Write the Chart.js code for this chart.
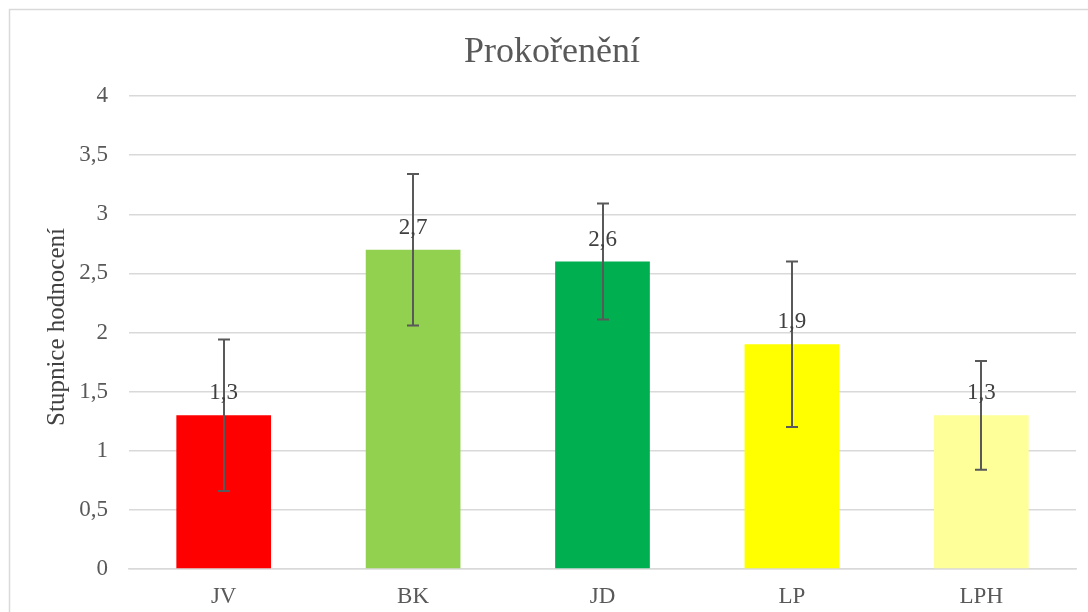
<!DOCTYPE html>
<html>
<head>
<meta charset="utf-8">
<script src="https://cdn.jsdelivr.net/npm/chart.js@4/dist/chart.umd.min.js"></script>
<style>
  html, body { margin: 0; padding: 0; background: #fff; }
  #wrap { width: 1088px; height: 612px; position: relative; }
</style>
</head>
<body>
<div id="wrap"><canvas id="chart"></canvas></div>
<script>
// Prokořenění – bar chart with error bars
const categories = ["JV", "BK", "JD", "LP", "LPH"];
const values = [1.3, 2.7, 2.6, 1.9, 1.3];
const errors = [0.64, 0.64, 0.49, 0.7, 0.46];
const barColors = ["#FF0000", "#92D050", "#00B050", "#FFFF00", "#FFFF99"];
const yTicks = [0, 0.5, 1, 1.5, 2, 2.5, 3, 3.5, 4];

const chartTitle = "Prokořenění";
const yTitle = "Stupnice hodnocení";
const FONT = "'Liberation Serif', 'Times New Roman', serif";

const fmt = (v) => String(v).replace(".", ",");

// frame, titles, error bars and value labels
const extrasPlugin = {
  id: "extras",
  beforeDraw(chart) {
    const ctx = chart.ctx;
    ctx.save();
    ctx.fillStyle = "#fff";
    ctx.fillRect(0, 0, chart.width, chart.height);
    ctx.strokeStyle = "#d9d9d9";
    ctx.lineWidth = 1.5;
    ctx.strokeRect(9.5, 9.5, chart.width + 20, chart.height + 20);
    ctx.restore();
  },
  afterDatasetsDraw(chart) {
    const ctx = chart.ctx;
    const y = chart.scales.y;
    const meta = chart.getDatasetMeta(0);
    ctx.save();

    // error bars
    ctx.strokeStyle = "#595959";
    ctx.lineWidth = 2;
    meta.data.forEach((bar, i) => {
      const x = Math.round(bar.x);
      const top = y.getPixelForValue(values[i] + errors[i]);
      const bot = y.getPixelForValue(values[i] - errors[i]);
      ctx.beginPath();
      ctx.moveTo(x, top);
      ctx.lineTo(x, bot);
      ctx.moveTo(x - 6, top);
      ctx.lineTo(x + 6, top);
      ctx.moveTo(x - 6, bot);
      ctx.lineTo(x + 6, bot);
      ctx.stroke();
    });

    // value labels
    ctx.fillStyle = "#404040";
    ctx.font = "23px " + FONT;
    ctx.textAlign = "center";
    ctx.textBaseline = "alphabetic";
    meta.data.forEach((bar, i) => {
      ctx.fillText(fmt(values[i]), bar.x, bar.y - 16);
    });

    // chart title
    ctx.fillStyle = "#595959";
    ctx.font = "36px " + FONT;
    ctx.textBaseline = "middle";
    ctx.fillText(chartTitle, 552, 53);

    // y axis title
    ctx.font = "25px " + FONT;
    ctx.fillStyle = "#404040";
    ctx.translate(57, 327);
    ctx.rotate(-Math.PI / 2);
    ctx.fillText(yTitle, 0, 0);
    ctx.restore();
  },
};

new Chart(document.getElementById("chart"), {
  type: "bar",
  data: {
    labels: categories,
    datasets: [
      {
        data: values,
        backgroundColor: barColors,
        borderWidth: 0,
        barPercentage: 0.5,
        categoryPercentage: 1,
      },
    ],
  },
  options: {
    responsive: true,
    maintainAspectRatio: false,
    animation: false,
    layout: { padding: { left: 0, top: 96, right: 12, bottom: 0 } },
    plugins: {
      legend: { display: false },
      tooltip: { enabled: false },
    },
    scales: {
      x: {
        afterFit: (s) => { s.height = 43; },
        grid: { display: false, drawTicks: false },
        border: { color: "#d9d9d9", width: 1.5 },
        ticks: {
          color: "#595959",
          font: { family: FONT, size: 23 },
          padding: 14,
        },
      },
      y: {
        min: 0,
        max: 4,
        afterFit: (s) => { s.width = 129; },
        afterBuildTicks: (s) => { s.ticks = yTicks.map((v) => ({ value: v })); },
        grid: { color: "#d9d9d9", lineWidth: 1.5, drawTicks: false },
        border: { display: false },
        ticks: {
          color: "#595959",
          font: { family: FONT, size: 23 },
          padding: 21,
          callback: (v) => fmt(v),
        },
      },
    },
  },
  plugins: [extrasPlugin],
});
</script>
</body>
</html>
